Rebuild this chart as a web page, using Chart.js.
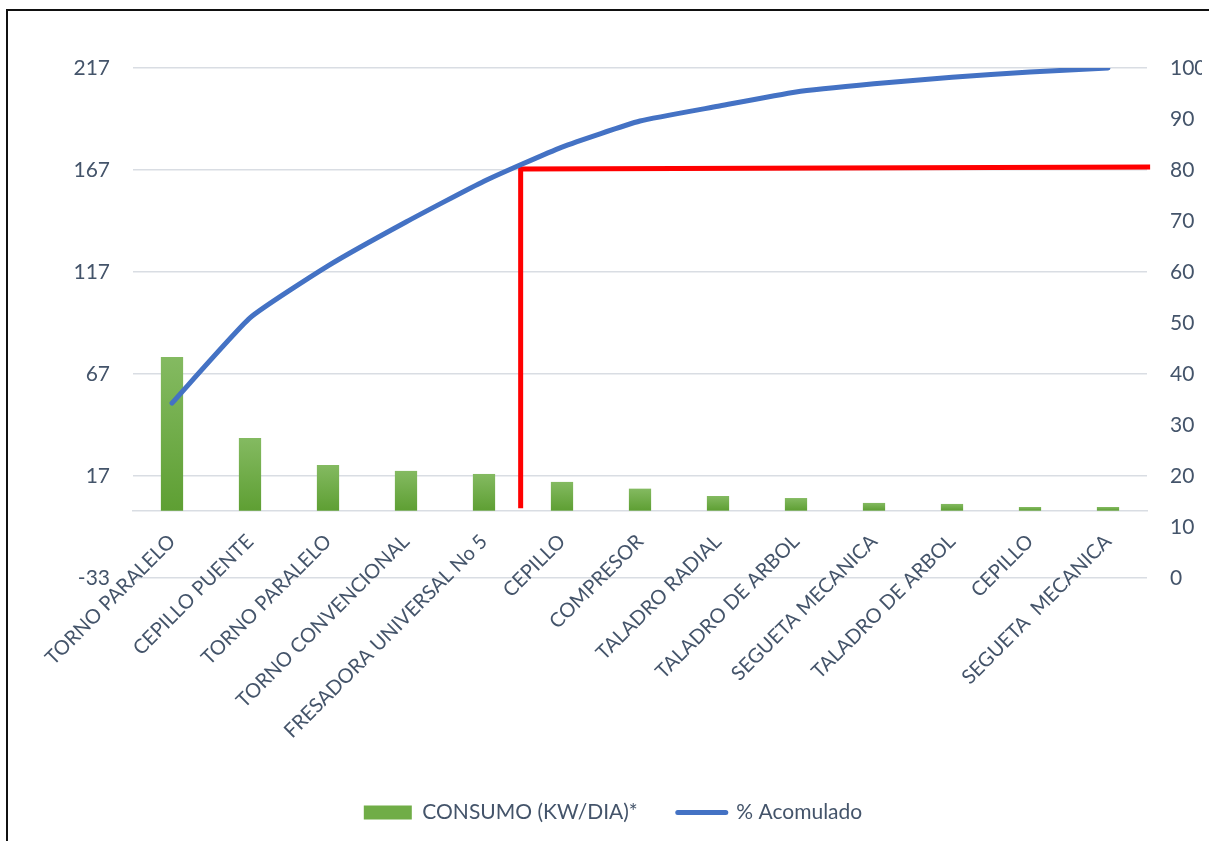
<!DOCTYPE html>
<html>
<head>
<meta charset="utf-8">
<script src="https://cdn.jsdelivr.net/npm/chart.js@4.4.1/dist/chart.umd.min.js"></script>
<style>
  html, body { margin: 0; padding: 0; background: #fff; overflow: hidden; width: 1209px; height: 841px; }
  #wrap { position: relative; width: 1209px; height: 841px; overflow: hidden; }
  #frame { position: absolute; left: 6px; top: 9px; width: 1300px; height: 900px;
           border-left: 2px solid #111; border-top: 2px solid #111; pointer-events: none; }
  canvas { position: absolute; left: 0; top: 0; }
</style>
</head>
<body>
<div id="wrap">
  <canvas id="c" width="1209" height="841"></canvas>
  <div id="frame"></div>
</div>
<script>
// ---- data ----
const categories = ["TORNO PARALELO", "CEPILLO PUENTE", "TORNO PARALELO", "TORNO CONVENCIONAL",
  "FRESADORA UNIVERSAL No 5", "CEPILLO", "COMPRESOR", "TALADRO RADIAL", "TALADRO DE ARBOL",
  "SEGUETA MECANICA", "TALADRO DE ARBOL", "CEPILLO", "SEGUETA  MECANICA"];
const consumo = [75.3, 35.6, 22.4, 19.5, 18.0, 14.1, 10.8, 7.2, 6.2, 3.8, 3.3, 1.8, 1.8];
const acumulado = [34.3, 51.0, 61.2, 69.8, 77.8, 84.5, 89.6, 92.5, 95.3, 96.9, 98.2, 99.2, 100];
const leftTicks = [-33, 17, 67, 117, 167, 217];
const rightTicks = [0, 10, 20, 30, 40, 50, 60, 70, 80, 90, 100];
const cutX = [4.47, 4.47, 12.54];
const cutY = [13.7, 80.2, 80.6];
const seriesNames = ["CONSUMO (KW/DIA)*", "% Acomulado"];

const TXT = '#44546a';
const GRID = '#d9dde3';
const FONT = 'Lato, "Open Sans", sans-serif';

function barGradient(context) {
  const chart = context.chart;
  const area = chart.chartArea;
  if (!area || context.type !== 'data') return '#70ad47';
  const ys = chart.scales.y;
  const v = context.raw;
  const top = ys.getPixelForValue(v);
  const bot = ys.getPixelForValue(0);
  if (!isFinite(top) || Math.abs(bot - top) < 1) return '#6aaa40';
  const g = chart.ctx.createLinearGradient(0, top, 0, bot);
  g.addColorStop(0, '#84ba61');
  g.addColorStop(1, '#5e9f33');
  return g;
}

new Chart(document.getElementById('c'), {
  type: 'bar',
  data: {
    labels: categories,
    datasets: [
      {
        type: 'line',
        label: seriesNames[1],
        data: acumulado,
        yAxisID: 'y1',
        xAxisID: 'x',
        borderColor: '#4472c4',
        backgroundColor: '#4472c4',
        borderWidth: 5,
        borderCapStyle: 'round',
        borderJoinStyle: 'round',
        pointRadius: 0,
        pointHoverRadius: 0,
        tension: 0.15,
        fill: false,
        order: 0
      },
      {
        type: 'line',
        label: 'corte',
        data: cutX.map((x, i) => ({ x: x, y: cutY[i] })),
        xAxisID: 'xr',
        yAxisID: 'y1',
        borderColor: '#ff0000',
        borderWidth: 5,
        borderJoinStyle: 'miter',
        borderCapStyle: 'butt',
        pointRadius: 0,
        tension: 0,
        fill: false,
        clip: false,
        order: 1
      },
      {
        type: 'bar',
        label: seriesNames[0],
        data: consumo,
        yAxisID: 'y',
        xAxisID: 'x',
        backgroundColor: barGradient,
        borderWidth: 0,
        grouped: false,
        barPercentage: 0.285,
        categoryPercentage: 1,
        order: 2
      }
    ]
  },
  options: {
    responsive: false,
    animation: false,
    devicePixelRatio: 1,
    layout: { padding: { left: 24, right: 7, top: 68, bottom: 8 } },
    plugins: {
      tooltip: { enabled: false },
      legend: {
        position: 'bottom',
        title: { display: true, text: ' ', font: { size: 10 }, padding: { top: 172, bottom: 0 } },
        labels: {
          color: TXT,
          font: { family: FONT, size: 21 },
          usePointStyle: true,
          pointStyleWidth: 48,
          boxHeight: 14,
          padding: 40,
          generateLabels: (chart) => {
            const ds = chart.data.datasets;
            return [
              { text: ds[2].label, fillStyle: '#70ad47', strokeStyle: '#70ad47', lineWidth: 0,
                pointStyle: 'rect', datasetIndex: 2, fontColor: TXT },
              { text: ds[0].label, fillStyle: '#4472c4', strokeStyle: '#4472c4', lineWidth: 5,
                lineCap: 'round', pointStyle: 'line', datasetIndex: 0, fontColor: TXT }
            ];
          }
        }
      }
    },
    scales: {
      x: {
        type: 'category',
        position: { y: 0 },
        offset: true,
        grid: { display: true, drawOnChartArea: false, drawTicks: false, color: GRID },
        border: { display: true, color: GRID, width: 1.5 },
        ticks: {
          color: TXT, font: { family: FONT, size: 20 },
          minRotation: 45, maxRotation: 45, autoSkip: false, padding: 19
        }
      },
      xr: {
        type: 'linear',
        display: true,
        position: 'top',
        offset: false,
        min: -0.5,
        max: 12.5,
        grid: { display: false, drawTicks: false },
        border: { display: false },
        ticks: { display: false },
        afterFit: (s) => { s.height = 0; }
      },
      y: {
        type: 'linear',
        position: 'left',
        min: -33,
        max: 217,
        afterBuildTicks: (s) => { s.ticks = leftTicks.map(v => ({ value: v })); },
        afterFit: (s) => { s.width = 109; },
        grid: { color: GRID, lineWidth: 1.5, drawTicks: false },
        border: { display: false },
        ticks: { color: TXT, font: { family: FONT, size: 21 }, padding: 23 }
      },
      y1: {
        type: 'linear',
        position: 'right',
        min: 0,
        max: 100,
        afterBuildTicks: (s) => { s.ticks = rightTicks.map(v => ({ value: v })); },
        afterFit: (s) => { s.width = 55; },
        grid: { drawOnChartArea: false, drawTicks: false },
        border: { display: false },
        ticks: { color: TXT, font: { family: FONT, size: 21 }, padding: 23 }
      }
    }
  }
});
</script>
</body>
</html>
